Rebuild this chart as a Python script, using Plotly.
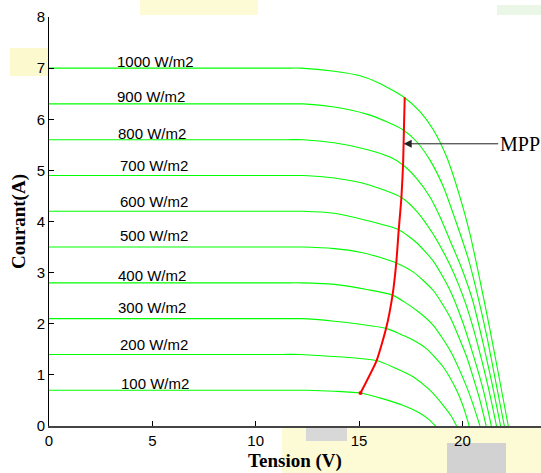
import plotly.graph_objects as go

# ---- data ----
irradiance_labels = ["100 W/m2", "200 W/m2", "300 W/m2", "400 W/m2", "500 W/m2",
                     "600 W/m2", "700 W/m2", "800 W/m2", "900 W/m2", "1000 W/m2"]

v_100 = [0, 6, 11.5, 12.5, 13.8, 15.05, 16.17, 17.14, 17.95, 18.4, 18.7]
i_100 = [0.7, 0.7, 0.7, 0.7, 0.68, 0.645, 0.53, 0.40, 0.25, 0.12, 0]

v_200 = [0, 6, 11.3, 12.1, 13.8, 15.05, 15.85, 16.66, 17.63, 18.43, 19.08, 19.45, 19.72]
i_200 = [1.4, 1.4, 1.4, 1.4, 1.36, 1.32, 1.28, 1.15, 0.96, 0.70, 0.40, 0.2, 0]

v_300 = [0, 6, 11.4, 12.2, 13.8, 15.05, 16.31, 17.47, 18.27, 19.08, 19.72, 20.05, 20.33]
i_300 = [2.1, 2.1, 2.1, 2.1, 2.05, 1.99, 1.91, 1.71, 1.51, 1.15, 0.70, 0.37, 0]

v_400 = [0, 6, 11.4, 12.2, 13.8, 15.37, 16.62, 17.79, 18.59, 19.4, 20.21, 20.55, 20.85]
i_400 = [2.8, 2.8, 2.8, 2.8, 2.77, 2.67, 2.56, 2.26, 1.97, 1.48, 0.76, 0.38, 0]

v_500 = [0, 6, 11.4, 12.2, 13.8, 15.05, 16.0, 16.8, 17.63, 18.59, 19.4, 20.21, 20.5, 20.85, 21.15]
i_500 = [3.5, 3.5, 3.5, 3.5, 3.47, 3.40, 3.30, 3.19, 3.01, 2.65, 2.13, 1.35, 0.98, 0.5, 0]

v_600 = [0, 6, 11.5, 12.3, 13.8, 15.37, 16.92, 17.8, 18.6, 19.37, 20.0, 20.5, 21.0, 21.4]
i_600 = [4.2, 4.2, 4.2, 4.2, 4.16, 4.02, 3.84, 3.58, 3.22, 2.68, 2.05, 1.42, 0.72, 0]

v_700 = [0, 6, 11.5, 12.3, 13.8, 15.37, 17.05, 17.79, 18.59, 19.4, 19.8, 20.17, 20.5, 20.8, 21.25, 21.65]
i_700 = [4.9, 4.9, 4.9, 4.9, 4.85, 4.73, 4.47, 4.20, 3.75, 3.15, 2.78, 2.38, 1.95, 1.5, 0.76, 0]

v_800 = [0, 6, 11.5, 12.3, 13.8, 15.37, 16.5, 17.14, 17.79, 18.43, 18.92, 19.4, 19.95, 20.5, 21.0, 21.45, 21.85]
i_800 = [5.6, 5.6, 5.6, 5.6, 5.54, 5.41, 5.26, 5.10, 4.84, 4.48, 4.09, 3.63, 3.1, 2.45, 1.62, 0.8, 0]

v_900 = [0, 6, 11.5, 12.3, 13.8, 15.37, 16.34, 17.14, 17.79, 18.43, 19.08, 19.72, 20.3, 20.74, 21.2, 21.62, 22.03]
i_900 = [6.3, 6.3, 6.3, 6.3, 6.24, 6.10, 5.95, 5.79, 5.56, 5.20, 4.68, 3.96, 3.25, 2.55, 1.72, 0.85, 0]

v_1000 = [0, 6, 11.4, 12.2, 13.8, 15.05, 16.0, 17.14, 17.95, 18.6, 19.24, 19.88, 20.37, 20.85, 21.34, 21.8, 22.22]
i_1000 = [7.0, 7.0, 7.0, 7.0, 6.94, 6.85, 6.70, 6.44, 6.15, 5.79, 5.26, 4.48, 3.75, 2.85, 1.87, 0.9, 0]

mpp_v = [15.07, 15.85, 16.31, 16.62, 16.8, 16.92, 17.05, 17.13, 17.17, 17.21]
mpp_i = [0.645, 1.28, 1.91, 2.56, 3.19, 3.84, 4.47, 5.12, 5.79, 6.43]

label_x = [3.40, 3.33, 3.24, 3.24, 3.33, 3.33, 3.33, 3.24, 3.21, 3.17]
label_y = [0.84, 1.60, 2.31, 2.95, 3.73, 4.40, 5.10, 5.73, 6.45, 7.12]

mpp_arrow_x = 17.16
mpp_arrow_y = 5.52

x_ticks = [0, 5, 10, 15, 20]
y_ticks = [0, 1, 2, 3, 4, 5, 6, 7, 8]

curves_v = [v_100, v_200, v_300, v_400, v_500, v_600, v_700, v_800, v_900, v_1000]
curves_i = [i_100, i_200, i_300, i_400, i_500, i_600, i_700, i_800, i_900, i_1000]

# ---- figure ----
fig = go.Figure()

W, H = 541, 473
ML, MR, MT, MB = 49, 0, 17, 47
pw, ph = W - ML - MR, H - MT - MB

def px2paper_x(px):
    return (px - ML) / pw

def px2paper_y(py):
    return (H - MB - py) / ph

# faint background blotches present in the reference image
blotches = [
    (282, 541, 427, 473, "#fdfad6"),
    (140, 258, 0, 15, "#fdfbd6"),
    (10, 48, 48, 76, "#fcf9cf"),
    (497, 541, 5, 15, "#eaf6e6"),
    (306, 347, 428, 441, "#d8d8d8"),
    (447, 506, 443, 473, "#d2d2d3"),
]
shapes = []
for x0, x1, y0, y1, col in blotches:
    shapes.append(dict(type="rect", xref="paper", yref="paper",
                       x0=px2paper_x(x0), x1=px2paper_x(x1),
                       y0=px2paper_y(y1), y1=px2paper_y(y0),
                       fillcolor=col, line=dict(width=0), layer="below"))

for v, i in zip(curves_v, curves_i):
    fig.add_trace(go.Scatter(x=v, y=i, mode="lines",
                             line=dict(color="#00ff00", width=1.1, shape="spline", smoothing=0.6),
                             hoverinfo="skip", showlegend=False))

fig.add_trace(go.Scatter(x=mpp_v, y=mpp_i, mode="lines",
                         line=dict(color="#ff0000", width=2, shape="spline", smoothing=0.5),
                         showlegend=False))
fig.add_trace(go.Scatter(x=mpp_v[:1], y=mpp_i[:1], mode="markers",
                         marker=dict(color="#ff0000", size=4), showlegend=False))

annotations = []
for t, x, y in zip(irradiance_labels, label_x, label_y):
    annotations.append(dict(x=x, y=y, xref="x", yref="y", text=t, showarrow=False,
                            xanchor="left", yanchor="middle",
                            font=dict(family="Liberation Sans, Arial", size=15, color="black")))

annotations.append(dict(x=mpp_arrow_x, y=mpp_arrow_y, xref="x", yref="y", text="MPP",
                        showarrow=True, ax=116, ay=0, arrowhead=2, arrowsize=1.6,
                        arrowwidth=1, arrowcolor="#222222", xanchor="center",
                        font=dict(family="Liberation Serif, Times New Roman", size=20, color="black")))

fig.update_layout(
    width=W, height=H,
    margin=dict(l=ML, r=MR, t=MT, b=MB),
    paper_bgcolor="white", plot_bgcolor="rgba(0,0,0,0)",
    shapes=shapes, annotations=annotations,
    showlegend=False,
)

fig.update_xaxes(range=[0, pw / 20.67], tickvals=x_ticks, ticktext=[str(t) for t in x_ticks],
                 showgrid=False, zeroline=False, showline=True, linecolor="#444444", linewidth=1.5,
                 ticks="inside", ticklen=5, tickcolor="black",
                 tickfont=dict(family="Liberation Sans, Arial", size=15, color="black"),
                 title=dict(text="<b>Tension (V)</b>", standoff=6,
                            font=dict(family="Liberation Serif, Times New Roman", size=19, color="black")))
fig.update_yaxes(range=[0, 8], tickvals=y_ticks, ticktext=[str(t) for t in y_ticks],
                 showgrid=False, zeroline=False, showline=True, linecolor="black", linewidth=1,
                 ticks="inside", ticklen=5, tickcolor="black",
                 tickfont=dict(family="Liberation Sans, Arial", size=15, color="black"),
                 title=dict(text="<b>Courant(A)</b>", standoff=6,
                            font=dict(family="Liberation Serif, Times New Roman", size=19, color="black")))

fig.write_html("out.html")
